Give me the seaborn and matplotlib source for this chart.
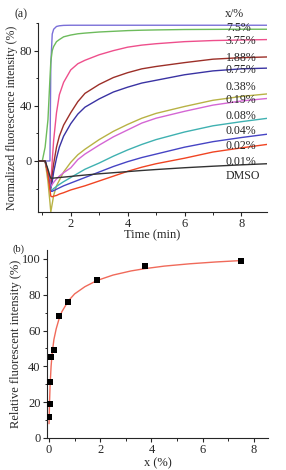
import numpy as np
import pandas as pd
import matplotlib
matplotlib.use("Agg")
import matplotlib.pyplot as plt
from matplotlib.ticker import MultipleLocator
import seaborn as sns

# ---- panel (a): kinetics ----
time_min = [0.85, 1.0, 1.1, 1.2, 1.27, 1.3, 1.35, 1.4, 1.5, 1.6, 1.75, 2.0,
            2.25, 2.5, 3.0, 3.5, 4.0, 4.5, 5.0, 6.0, 7.0, 8.0, 8.9]

curve_7_5 = [0, 0, 0, 0, 0, 70, 92, 95.5, 97.5, 98, 98.3, 98.4,
             98.4, 98.4, 98.4, 98.4, 98.4, 98.4, 98.4, 98.4, 98.4, 98.4, 98.4]
curve_3_75 = [0, 0, 10, 30, 60, 72, 80, 83, 86.5, 88, 90, 91.3,
              92.2, 92.7, 93.5, 94, 94.5, 94.8, 95, 95.3, 95.4, 95.5, 95.5]
curve_1_88 = [0, 0, 0, -8, -14, -16, 0, 15, 35, 48, 57, 66,
              70.5, 73, 77, 80, 82.5, 84, 85, 86.5, 87.3, 87.7, 88]
curve_0_75 = [0, 0, 0, -8, -15, -18, -10, -2, 10, 18, 26, 35,
              43, 49, 55.5, 60.5, 64, 66.8, 68.5, 71.3, 73.8, 74.9, 75.4]
curve_0_38 = [0, 0, 0, -9, -17, -20, -15, -8, 2, 10, 18, 27,
              34, 39, 45, 50, 53.5, 56.5, 58.5, 62.5, 65.3, 66.8, 67.3]
curve_0_19 = [0, 0, 0, -15, -30, -37, -31, -25, -18, -14, -8, -1,
              4.5, 8.5, 15.5, 21.5, 26.5, 31, 34.5, 39.5, 44, 46.8, 48.6]
curve_0_08 = [0, 0, 0, -8, -15, -18.6, -17, -15.5, -13, -11, -8.5, -5,
              1, 5, 11.5, 17.5, 22.5, 27.5, 31, 36, 40.5, 43.5, 45.3]
curve_0_04 = [0, 0, 0, -9, -18, -21.5, -21, -20, -18.5, -17, -15, -12,
              -9, -6, -1.5, 3.5, 8, 12, 15.5, 21, 25.5, 28.5, 30.9]
curve_0_02 = [0, 0, 0, -9, -18, -22, -22, -21.5, -20.5, -19.5, -18, -16,
              -14, -12, -8, -4, -0.5, 2.5, 5, 10, 14, 17, 19.4]
curve_0_01 = [0, 0, 0, -10, -21, -25.5, -26, -25.5, -25, -24, -23, -21,
              -19.5, -18, -14.5, -11, -7.5, -4.5, -2, 2, 6.5, 9.5, 12]
curve_dmso = [0, 0, 0, -6, -11, -12.5, -12.5, -12.4, -12.2, -12, -11.7, -11.2,
              -10.7, -10.2, -9.3, -8.5, -7.7, -6.9, -6.2, -4.9, -3.8, -2.8, -2]

series_names = ["7.5%", "3.75%", "1.88%", "0.75%", "0.38%", "0.19%",
                "0.08%", "0.04%", "0.02%", "0.01%", "DMSO"]
series_values = [curve_7_5, curve_3_75, curve_1_88, curve_0_75, curve_0_38,
                 curve_0_19, curve_0_08, curve_0_04, curve_0_02, curve_0_01,
                 curve_dmso]
series_colors = ["#7a6fd8", "#6dbb5c", "#ee4f8c", "#9c2f28", "#3a33a3",
                 "#b8b245", "#d466d4", "#3fb1b1", "#4644c4", "#f04422", "#333333"]

# label spots next to the curves (value axis)
label_y = [96.5, 86.7, 74.7, 66.2, 53.3, 44.3, 32.7, 22.0, 11.1, -1.0, -10.7]

# ---- panel (b): dose response ----
dose = [0.01, 0.02, 0.04, 0.08, 0.19, 0.38, 0.75, 1.88, 3.75, 7.5]
rel_intensity = [12, 19, 31, 45, 49, 68, 76, 88, 96, 99]
fit_x = [0, 0.01, 0.02, 0.04, 0.08, 0.12, 0.19, 0.28, 0.38, 0.5, 0.75, 1.0,
         1.4, 1.88, 2.5, 3.2, 3.75, 4.5, 5.5, 6.5, 7.5]
fit_y = [8, 14, 20, 29, 40, 47, 55, 61, 66, 70.5, 76.5, 80.5,
         84.5, 88, 91, 93.3, 94.6, 96, 97.3, 98.3, 99.1]

rows = []
for name, vals in zip(series_names, series_values):
    for t, v in zip(time_min, vals):
        rows.append((name, t, v))
df_kin = pd.DataFrame(rows, columns=["conc", "time", "value"])
df_dose = pd.DataFrame({"x": dose, "y": rel_intensity})
df_fit = pd.DataFrame({"x": fit_x, "y": fit_y})

sns.set_style("ticks")
plt.rcParams["font.family"] = ["Liberation Serif", "DejaVu Serif"]
plt.rcParams["xtick.direction"] = "out"
plt.rcParams["ytick.direction"] = "out"

fig = plt.figure(figsize=(2.86, 4.70), dpi=100)
ax1 = fig.add_axes([0.1329, 0.5489, 0.8007, 0.4021])
ax2 = fig.add_axes([0.1643, 0.0681, 0.7727, 0.4])

sns.lineplot(data=df_kin, x="time", y="value", hue="conc",
             hue_order=series_names, palette=series_colors,
             linewidth=1.0, legend=False, ax=ax1, sort=False)
ax1.set_xlim(0.85, 8.9)
ax1.set_ylim(-37, 100)
ax1.xaxis.set_major_locator(MultipleLocator(2))
ax1.xaxis.set_minor_locator(MultipleLocator(1))
ax1.yaxis.set_major_locator(MultipleLocator(40))
ax1.yaxis.set_minor_locator(MultipleLocator(20))
ax1.set_xlabel("Time (min)", fontsize=9, labelpad=-1)
ax1.set_ylabel("Normalized fluorescence intensity (%)", fontsize=8.6, labelpad=1)
ax1.tick_params(labelsize=9, length=3, width=0.8, pad=1.5)
ax1.tick_params(which="minor", length=1.8, width=0.7)
sns.despine(ax=ax1)

ax1.text(7.75, 106.2, "x/%", fontsize=8.6, ha="center", va="center", clip_on=False)
for name, ly in zip(series_names, label_y):
    ax1.text(7.45, ly, name, fontsize=8.6, ha="left", va="center")
ax1.text(-0.075, 1.045, "(a)", transform=ax1.transAxes, fontsize=8.6,
         ha="center", va="center")

sns.lineplot(data=df_fit, x="x", y="y", color="#f06a5a", linewidth=1.0, ax=ax2)
sns.scatterplot(data=df_dose, x="x", y="y", marker="s", color="black",
                s=16, edgecolor="black", linewidth=0, ax=ax2, zorder=3)
ax2.set_xlim(-0.08, 8.55)
ax2.set_ylim(0, 105)
ax2.xaxis.set_major_locator(MultipleLocator(2))
ax2.xaxis.set_minor_locator(MultipleLocator(1))
ax2.yaxis.set_major_locator(MultipleLocator(20))
ax2.yaxis.set_minor_locator(MultipleLocator(10))
ax2.set_xlabel("x (%)", fontsize=9, labelpad=1)
ax2.set_ylabel("Relative fluorescent intensity (%)", fontsize=9, labelpad=0)
ax2.tick_params(labelsize=9, length=3, width=0.8, pad=1.5)
ax2.tick_params(which="minor", length=1.8, width=0.7)
sns.despine(ax=ax2)
ax2.text(-0.131, 1.005, "(b)", transform=ax2.transAxes, fontsize=7.5,
         ha="center", va="center")

fig.savefig("out.png", dpi=100)
